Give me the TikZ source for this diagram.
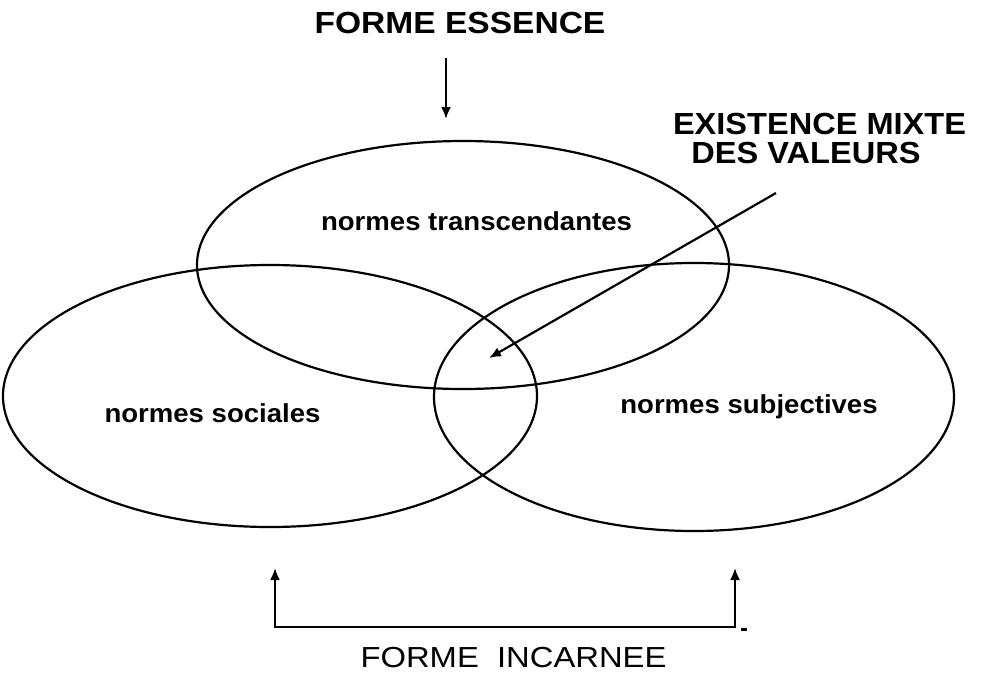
\documentclass[tikz,border=0pt]{standalone}
\usepackage{fontspec}
\setmainfont{Liberation Sans}
\usetikzlibrary{arrows.meta}
\begin{document}
\begin{tikzpicture}[x=1pt,y=-1pt,
  ell/.style={draw,line width=2.2pt},
  big/.style={font=\fontsize{30.5}{30}\selectfont\bfseries,xscale=1.1,transform shape,inner sep=0pt},
  mid/.style={font=\fontsize{30.5}{30}\selectfont\bfseries,xscale=1.067,transform shape,inner sep=0pt},
  bigreg/.style={font=\fontsize{29}{34}\selectfont,xscale=1.13,transform shape,inner sep=0pt},
  small/.style={font=\fontsize{26}{30}\selectfont\bfseries,xscale=1.06,transform shape,anchor=base},
  arr/.style={line width=2.2pt,-{Latex[length=12pt,width=10pt]}}]
\useasboundingbox (0,0) rectangle (982,675);
\draw[ell] (463,265) ellipse [x radius=266, y radius=124];
\draw[ell] (270,396) ellipse [x radius=267, y radius=131];
\draw[ell] (694,397) ellipse [x radius=260, y radius=134];
\node[big] (fe) at (460,23) {FORME ESSENCE};
\coordinate (feS) at (446,58);
\coordinate (feE) at (446,119);
\draw[arr] (feS) -- (feE);
\node[mid] (em1) at (819.5,123.5) {EXISTENCE MIXTE};
\node[mid] (em2) at (806,152.5) {DES VALEURS};
\coordinate (emS) at (776,193);
\coordinate (emE) at (489,358);
\draw[arr] (emS) -- (emE);
\node[small] (nt) at (476.5,230) {normes transcendantes};
\node[small] (ns) at (212.5,422) {normes sociales};
\node[small] (nsub) at (749,413) {normes subjectives};
\coordinate (bl) at (275,627);
\coordinate (br) at (735,627);
\coordinate (tl) at (275,568);
\coordinate (tr) at (735,568);
\draw[line width=2.2pt] (tl) ++(0,8) -- (bl) -- (br) -- ++(0,-51);
\draw[arr] (bl) -- (tl);
\draw[arr] (br) -- (tr);
\fill (741,627.5) rectangle (747,631);
\node[bigreg] (fi) at (513.5,657.5) {FORME\ \ INCARNEE};
\end{tikzpicture}
\end{document}
